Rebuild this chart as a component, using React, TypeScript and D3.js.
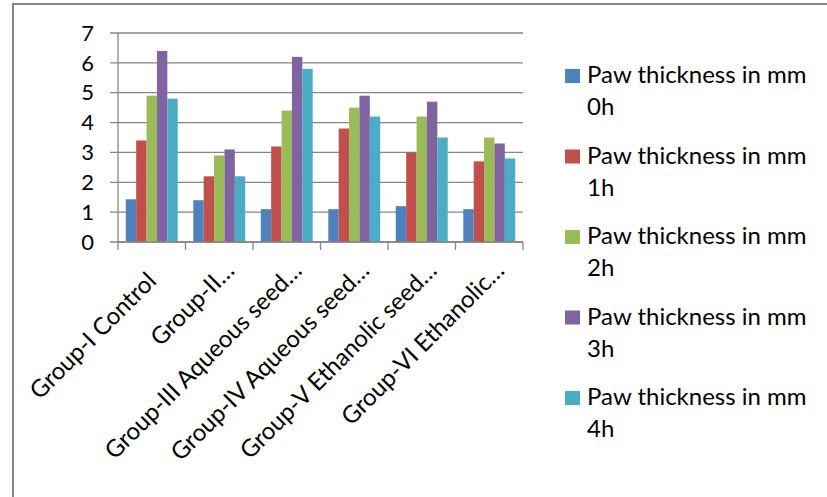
import React from 'react';
import { scaleBand, scaleLinear } from 'd3';

const categories = [
  'Group-I Control',
  'Group-II…',
  'Group-III Aqueous seed…',
  'Group-IV Aqueous seed…',
  'Group-V Ethanolic seed…',
  'Group-VI Ethanolic…',
];
const seriesNames = [
  'Paw thickness in mm 0h',
  'Paw thickness in mm 1h',
  'Paw thickness in mm 2h',
  'Paw thickness in mm 3h',
  'Paw thickness in mm 4h',
];
const paw0h = [1.43, 1.4, 1.1, 1.1, 1.2, 1.1];
const paw1h = [3.4, 2.2, 3.2, 3.8, 3.0, 2.7];
const paw2h = [4.9, 2.9, 4.4, 4.5, 4.2, 3.5];
const paw3h = [6.4, 3.1, 6.2, 4.9, 4.7, 3.3];
const paw4h = [4.8, 2.2, 5.8, 4.2, 3.5, 2.8];
const yTicks = [0, 1, 2, 3, 4, 5, 6, 7];
const colors = ['#4F81BD', '#C0504D', '#9BBB59', '#8064A2', '#4BACC6'];

const seriesValues = [paw0h, paw1h, paw2h, paw3h, paw4h];

const width = 827;
const height = 497;
const plot = { left: 118, right: 523, top: 33, bottom: 242 };
const font = 'Lato, sans-serif';
const tickSize = 22;
const labelSize = 24;
const grey = '#868686';

export default function App() {
  // category bands, then a band per series inside each category
  const x = scaleBand<string>().domain(categories).range([plot.left, plot.right]);
  const inner = scaleBand<number>()
    .domain(seriesNames.map((_, i) => i))
    .range([0, x.bandwidth()])
    .paddingInner(0)
    .paddingOuter(0.75);
  const y = scaleLinear().domain([0, 7]).range([plot.bottom, plot.top]);

  const boundaries = categories.map(c => x(c) as number).concat(plot.right);

  return (
    <svg
      width={width}
      height={height}
      style={{ position: 'absolute', left: 0, top: 0, background: '#fff' }}
      fontFamily={font}
    >
      {/* outer frame (only top/left visible) */}
      <line x1={12} x2={width} y1={4} y2={4} stroke={grey} strokeWidth={2} />
      <line x1={13} x2={13} y1={4} y2={height} stroke={grey} strokeWidth={2} />

      {/* gridlines + y ticks */}
      {yTicks.map(t => (
        <g key={t}>
          <line
            x1={plot.left - 8}
            x2={plot.right}
            y1={y(t)}
            y2={y(t)}
            stroke={grey}
            strokeWidth={1.3}
          />
          <text
            x={94}
            y={y(t)}
            dy="0.35em"
            textAnchor="end"
            fontSize={tickSize}
            fill="#000"
          >
            {t}
          </text>
        </g>
      ))}

      {/* bars */}
      {seriesValues.map((vals, si) =>
        vals.map((v, ci) => (
          <rect
            key={si + '-' + ci}
            x={(x(categories[ci]) as number) + (inner(si) as number)}
            y={y(v)}
            width={inner.bandwidth()}
            height={y(0) - y(v)}
            fill={colors[si]}
          />
        )),
      )}

      {/* axes */}
      <line x1={plot.left} x2={plot.left} y1={plot.top} y2={plot.bottom} stroke={grey} strokeWidth={1.3} />
      <line x1={plot.left} x2={plot.right} y1={plot.bottom} y2={plot.bottom} stroke={grey} strokeWidth={1.3} />
      {boundaries.map((b, i) => (
        <line key={i} x1={b} x2={b} y1={plot.bottom} y2={plot.bottom + 8} stroke={grey} strokeWidth={1.3} />
      ))}

      {/* rotated category labels; untruncated ones sit a bit further out */}
      {categories.map(c => {
        const shift = c.endsWith('…') ? 0 : 15;
        const cx = (x(c) as number) + x.bandwidth() / 2 + 16.5 - shift * Math.SQRT1_2;
        const cy = 272 + shift * Math.SQRT1_2;
        return (
          <text
            key={c}
            transform={`translate(${cx},${cy}) rotate(-45)`}
            textAnchor="end"
            fontSize={labelSize}
            fill="#000"
          >
            {c}
          </text>
        );
      })}

      {/* legend */}
      {seriesNames.map((s, i) => {
        const top = 69 + i * 80.5;
        const words = s.split(' ');
        const last = words.pop();
        return (
          <g key={s}>
            <rect x={565} y={top} width={15} height={14} fill={colors[i]} />
            <text x={587} y={top + 14} fontSize={labelSize} fill="#000">
              {words.join(' ')}
            </text>
            <text x={587} y={top + 46} fontSize={labelSize} fill="#000">
              {last}
            </text>
          </g>
        );
      })}
    </svg>
  );
}
